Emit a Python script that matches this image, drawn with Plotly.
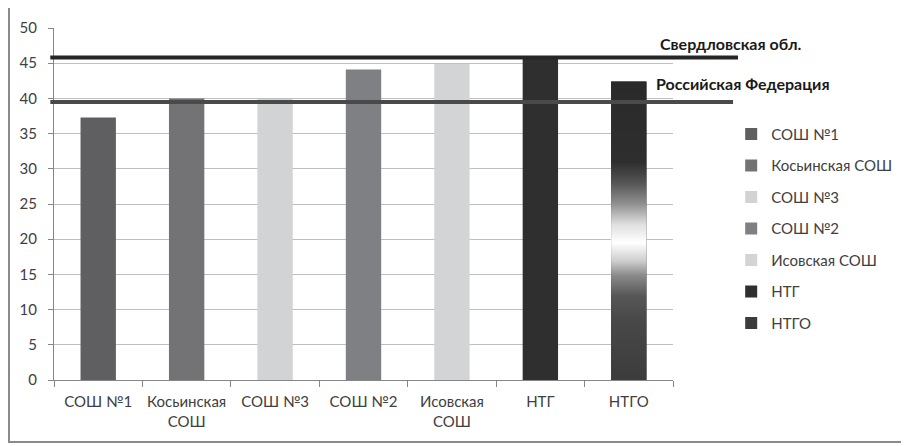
import plotly.graph_objects as go

# ---- data ----
categories = ["СОШ №1", "Косьинская СОШ", "СОШ №3", "СОШ №2", "Исовская СОШ", "НТГ", "НТГО"]
tick_labels = ["СОШ №1", "Косьинская<br>СОШ", "СОШ №3", "СОШ №2", "Исовская<br>СОШ", "НТГ", "НТГО"]
values = [37.3, 40.0, 39.9, 44.1, 44.9, 46.0, 42.4]
bar_colors = ["#5f5f61", "#737376", "#d2d3d5", "#7f8083", "#d3d4d6", "#2f2f2f", "#3c3c3c"]
ref_names = ["Свердловская обл.", "Российская Федерация"]
ref_values = [45.8, 39.5]
ref_colors = ["#262626", "#4a4a4a"]
y_ticks = [0, 5, 10, 15, 20, 25, 30, 35, 40, 45, 50]

FONT = "Lato"
TXT = "#404040"
BAR_W = 0.4

fig = go.Figure()

for i, (c, v, col) in enumerate(zip(categories, values, bar_colors)):
    fig.add_trace(go.Bar(
        x=[c], y=[v], name=c, width=BAR_W,
        marker=dict(color=col, line=dict(width=0)),
        legendgroup=c, showlegend=True,
    ))

# gradient overlay for the last bar (НТГО)
gi = len(categories) - 1
gv = values[gi]
fig.add_trace(go.Scatter(
    x=[gi - BAR_W / 2, gi + BAR_W / 2, gi + BAR_W / 2, gi - BAR_W / 2, gi - BAR_W / 2],
    y=[0, 0, gv, gv, 0],
    xaxis="x2", yaxis="y",
    mode="lines", line=dict(width=0), fill="toself",
    fillgradient=dict(
        type="vertical", start=0, stop=gv,
        colorscale=[
            [0.0, "#3c3c3c"], [0.19, "#474747"], [0.28, "#565656"],
            [0.35, "#8a8a8a"], [0.40, "#cfcfcf"], [0.46, "#ffffff"],
            [0.52, "#e0e0e0"], [0.59, "#909090"], [0.66, "#555555"],
            [0.73, "#2e2e2e"], [1.0, "#2a2a2a"],
        ],
    ),
    showlegend=False, hoverinfo="skip",
))

# reference lines and labels
line_ends = [1.105, 1.097]
label_x = [0.975, 0.970]
label_y = [0.955, 0.841]
for name, val, col, xe, lx, ly in zip(ref_names, ref_values, ref_colors, line_ends, label_x, label_y):
    fig.add_shape(type="line", xref="paper", yref="y", x0=-0.006, x1=xe, y0=val, y1=val,
                  line=dict(color=col, width=4), layer="above")
    fig.add_annotation(text="<b>" + name + "</b>", xref="paper", yref="paper",
                       x=lx, y=ly, xanchor="left", yanchor="middle", showarrow=False,
                       font=dict(family=FONT, size=16, color="#1a1a1a"))

# outer border
fig.add_shape(type="rect", xref="paper", yref="paper",
              x0=-0.0727, x1=1.378, y0=-0.176, y1=1.060,
              line=dict(color="#8a8a8a", width=2), layer="below")

fig.update_layout(
    width=901, height=438,
    margin=dict(l=46, r=236, t=20, b=66, autoexpand=False),
    paper_bgcolor="white", plot_bgcolor="white",
    barmode="overlay",
    font=dict(family=FONT, size=15, color=TXT),
    showlegend=True,
    legend=dict(x=1.094, y=0.745, xanchor="left", yanchor="top",
                font=dict(family=FONT, size=15, color=TXT),
                tracegroupgap=9, bgcolor="rgba(0,0,0,0)"),
    xaxis=dict(
        type="category", categoryorder="array", categoryarray=categories,
        tickvals=categories, ticktext=tick_labels, tickangle=0, automargin=False,
        tickson="boundaries", ticks="outside", ticklen=6, tickcolor="#868686",
        ticklabelstandoff=8,
        showline=True, linecolor="#868686", linewidth=1,
        showgrid=False, range=[-0.5, 6.5],
        tickfont=dict(family=FONT, size=15, color=TXT),
    ),
    xaxis2=dict(overlaying="x", range=[-0.5, 6.5], visible=False),
    yaxis=dict(
        range=[0, 50], tickvals=y_ticks, automargin=False,
        showgrid=True, gridcolor="#bfbfbf", gridwidth=1,
        showline=True, linecolor="#868686", linewidth=1,
        ticks="outside", ticklen=5, tickcolor="#868686",
        ticklabelstandoff=8,
        tickfont=dict(family=FONT, size=15, color=TXT),
        zeroline=False,
    ),
)

fig.write_html("out.html")
